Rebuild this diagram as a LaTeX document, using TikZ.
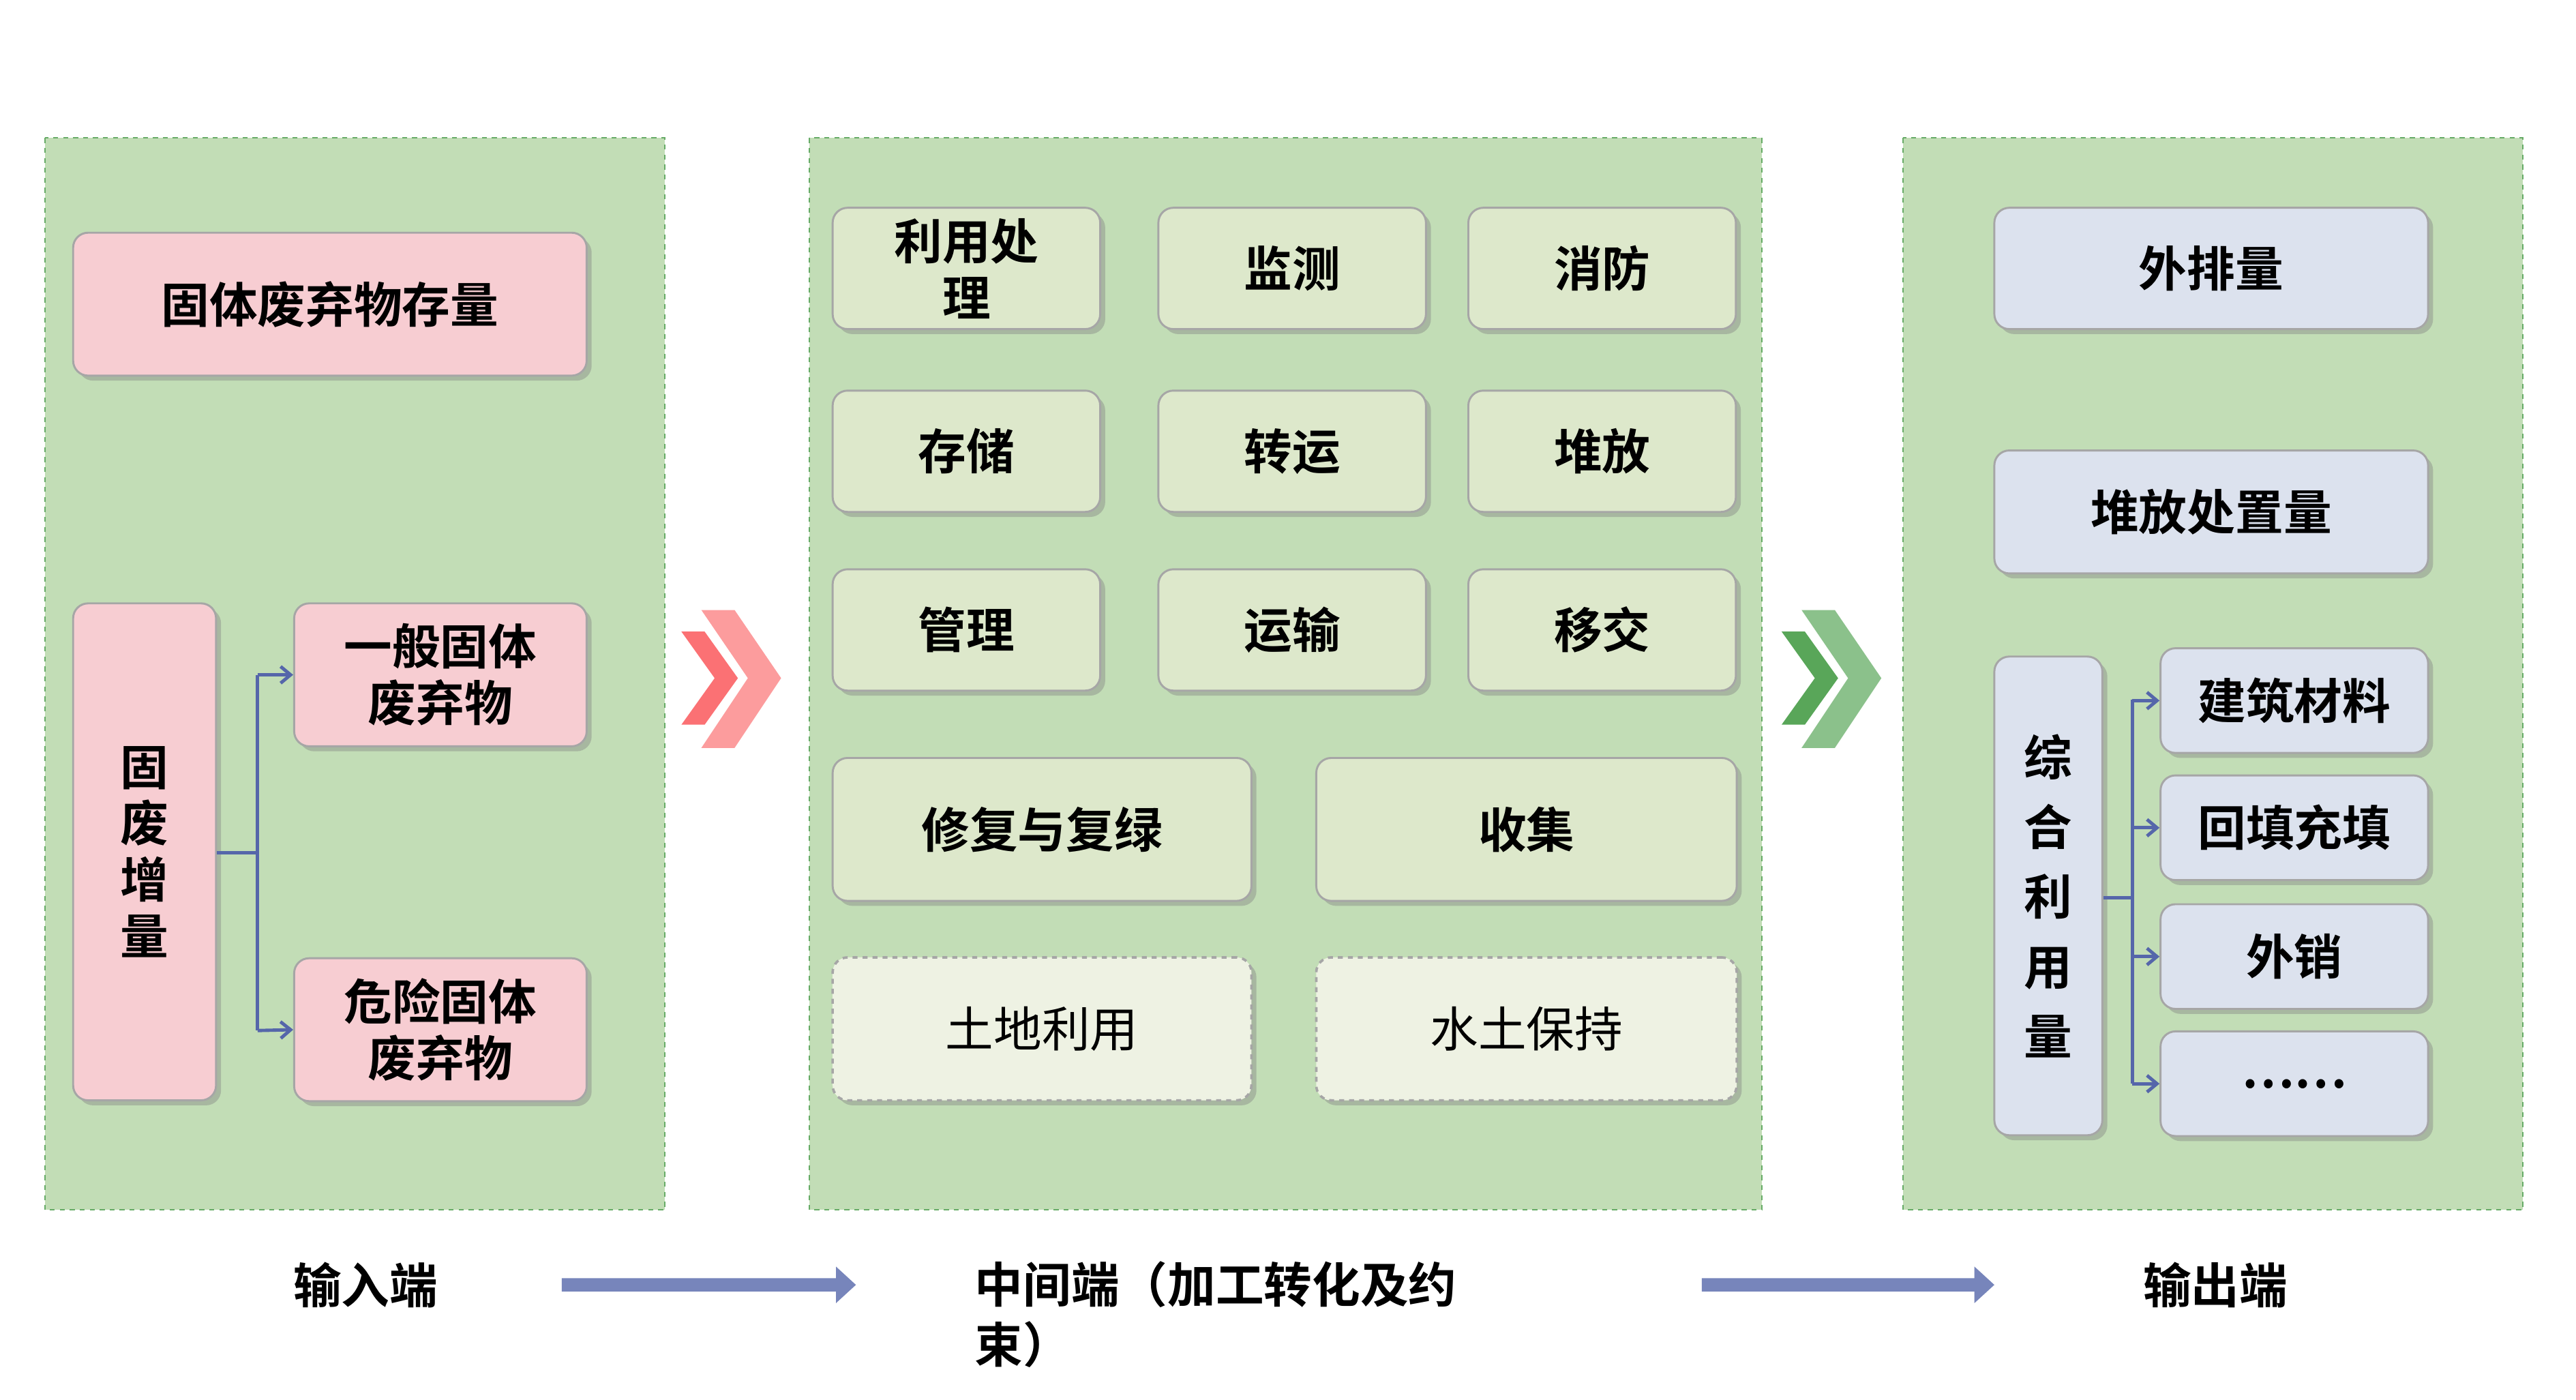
\documentclass[tikz,border=0pt]{standalone}
\usepackage{fontspec}
\newfontfamily\cjk{Noto Sans CJK SC}
\newfontfamily\cjkb{Noto Sans CJK SC Bold}
\usetikzlibrary{shadows,arrows.meta}
\definecolor{panel}{HTML}{C2DDB6}
\definecolor{pink}{HTML}{F7CDD2}
\definecolor{lg}{HTML}{DDE8CB}
\definecolor{lg2}{HTML}{EEF2E3}
\definecolor{lb}{HTML}{DCE2EE}
\definecolor{br}{HTML}{5566AA}
\begin{document}
\begin{tikzpicture}[x=1pt,y=-1pt,
 panelbox/.style={fill=panel,draw=green!45!black!60,dashed,line width=0.8pt},
 bx/.style={rounded corners=9pt,draw=gray!70,line width=1.2pt,drop shadow={shadow xshift=3pt,shadow yshift=-3pt,opacity=0.4},font=\cjkb\fontsize{29}{34}\selectfont,align=center},
 dbx/.style={rounded corners=9pt,draw=gray!70,dashed,line width=1.5pt,fill=lg2,drop shadow={shadow xshift=3pt,shadow yshift=-3pt,opacity=0.4},font=\cjk\fontsize{29}{34}\selectfont},
 con/.style={draw=br,line width=2pt,-{Straight Barb[length=6pt,width=10pt]}},
 lab/.style={font=\cjkb\fontsize{29}{36}\selectfont}]
\useasboundingbox (0,0) rectangle (1550,842);
\fill[white] (0,0) rectangle (1550,842);
\draw[panelbox] (27,83) rectangle (400,728);
\draw[panelbox] (487,83) rectangle (1060,728);
\draw[panelbox] (1145,83) rectangle (1518,728);
% left
\node[bx,fill=pink,minimum width=309pt,minimum height=86pt] (stock) at (198.5,183) {固体废弃物存量};
\node[bx,fill=pink,minimum width=86pt,minimum height=299pt] (inc) at (87,512.5) {固\\废\\增\\量};
\node[bx,fill=pink,minimum width=176pt,minimum height=86pt] (gen) at (265,406) {一般固体\\废弃物};
\node[bx,fill=pink,minimum width=176pt,minimum height=86pt] (haz) at (265,619.5) {危险固体\\废弃物};
\coordinate (lb) at (155,513);
\draw[br,line width=2pt] (inc.east|-lb) -- (lb) (155,406) -- (155,620);
\draw[con] (155,406) -- (gen.west);
\draw[con] (155,620) -- (haz.west);
% middle
\tikzset{m/.style={bx,fill=lg,minimum width=161pt,minimum height=73pt}}
\node[m] (a1) at (581.5,161.5) {利用处\\理};
\node[m] (a2) at (777.5,161.5) {监测};
\node[m] (a3) at (964,161.5) {消防};
\node[m] (b1) at (581.5,271.5) {存储};
\node[m] (b2) at (777.5,271.5) {转运};
\node[m] (b3) at (964,271.5) {堆放};
\node[m] (c1) at (581.5,379) {管理};
\node[m] (c2) at (777.5,379) {运输};
\node[m] (c3) at (964,379) {移交};
\node[bx,fill=lg,minimum width=252pt,minimum height=86pt] (d1) at (627,499) {修复与复绿};
\node[bx,fill=lg,minimum width=253pt,minimum height=86pt] (d2) at (918.5,499) {收集};
\node[dbx,minimum width=252pt,minimum height=86pt] (e1) at (627,619) {土地利用};
\node[dbx,minimum width=253pt,minimum height=86pt] (e2) at (918.5,619) {水土保持};
% right
\node[bx,fill=lb,minimum width=261pt,minimum height=73pt] (r1) at (1330.5,161.5) {外排量};
\node[bx,fill=lb,minimum width=261pt,minimum height=74pt] (r2) at (1330.5,308) {堆放处置量};
\node[bx,fill=lb,minimum width=65pt,minimum height=288pt] (r3) at (1232.5,539) {综\\[8pt]合\\[8pt]利\\[8pt]用\\[8pt]量};
\tikzset{s/.style={bx,fill=lb,minimum width=161pt,minimum height=63pt}}
\node[s] (s1) at (1380.5,421.5) {建筑材料};
\node[s] (s2) at (1380.5,498) {回填充填};
\node[s] (s3) at (1380.5,575.5) {外销};
\node[s] (s4) at (1380.5,652) {……};
\coordinate (rb) at (1283,540);
\draw[br,line width=2pt] (r3.east|-rb) -- (rb) (1283,421) -- (1283,652);
\foreach \t in {s1,s2,s3,s4} \draw[con] (1283,0 |- \t.west) -- (\t.west);
% chevrons
\foreach \x/\c in {410/red!45!pink,1072/green!30!gray} {
 \fill[\c!70!white] (\x+12,367) -- (\x+32,367) -- (\x+60,408) -- (\x+32,450) -- (\x+12,450) -- (\x+40,408) -- cycle;
 \fill[\c] (\x,380) -- (\x+14,380) -- (\x+34,408) -- (\x+14,436) -- (\x,436) -- (\x+20,408) -- cycle;
}
% bottom
\node[lab] (in) at (220,773) {输入端};
\node[lab,anchor=west,align=left] (mid) at (583,791) {中间端（加工转化及约\\束）};
\node[lab] (out) at (1333,773) {输出端};
\foreach \a/\b in {338/515,1024/1200} {
 \fill[br!80!white] (\a,769) -- (\b-12,769) -- (\b-12,762) -- (\b,773) -- (\b-12,784) -- (\b-12,777) -- (\a,777) -- cycle;
}
\end{tikzpicture}
\end{document}
